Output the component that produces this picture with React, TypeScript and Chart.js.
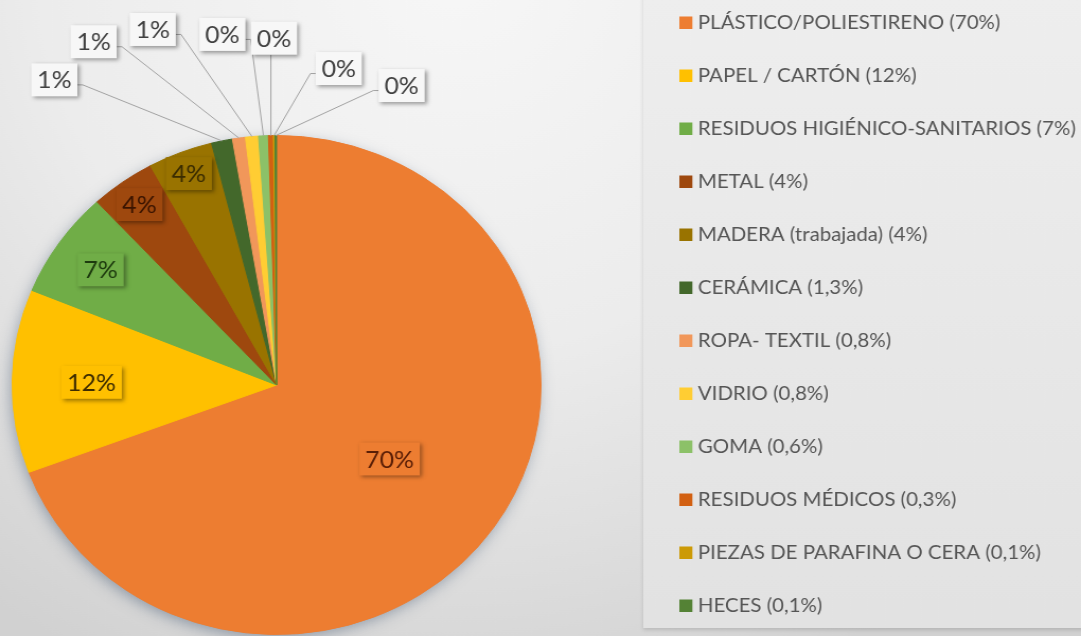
import React, { useEffect, useRef } from 'react';
import { Chart, registerables } from 'chart.js';

Chart.register(...registerables);

// ---------- data ----------
const categories = [
  'PLÁSTICO/POLIESTIRENO (70%)',
  'PAPEL / CARTÓN (12%)',
  'RESIDUOS HIGIÉNICO-SANITARIOS (7%)',
  'METAL (4%)',
  'MADERA (trabajada) (4%)',
  'CERÁMICA (1,3%)',
  'ROPA- TEXTIL (0,8%)',
  'VIDRIO (0,8%)',
  'GOMA (0,6%)',
  'RESIDUOS MÉDICOS (0,3%)',
  'PIEZAS DE PARAFINA O CERA (0,1%)',
  'HECES (0,1%)',
];
const values = [70, 12, 7, 4, 4, 1.3, 0.8, 0.8, 0.6, 0.3, 0.1, 0.1];
const dataLabels = ['70%', '12%', '7%', '4%', '4%', '1%', '1%', '1%', '0%', '0%', '0%', '0%'];

// ---------- styles ----------
const sliceColors = [
  '#ED7D31', '#FFC000', '#70AD47', '#9E480E', '#997300', '#43682B',
  '#F1975A', '#FFCD33', '#8CC168', '#D26012', '#CC9A06', '#548235',
];
const labelTextColors = [
  '#5a1e06', '#3d2c00', '#1d3a0e', '#3a1400', '#3a2c00',
  '#404040', '#404040', '#404040', '#404040', '#404040', '#404040', '#404040',
];
// inside labels: fraction of radius along the slice's mid angle
const insideLabelRadius = [0.52, 0.7, 0.81, 0.89, 0.91];
// callout labels: angle (deg, clockwise from top) and distance (fraction of radius)
const calloutAngleDeg = [-34.5, -26.7, -18.2, -8.3, -0.4, 10.5, 21.5];
const calloutDistance = [1.484, 1.54, 1.5, 1.42, 1.39, 1.29, 1.29];

const SX = 1081 / 1020;
const FONT = 'Lato, "Open Sans", "DejaVu Sans", sans-serif';

const backgroundPlugin = {
  id: 'bgPanel',
  beforeDraw(chart: any) {
    const { ctx, width, height } = chart;
    ctx.save();
    const g = ctx.createRadialGradient(width * 0.42, -40, 10, width * 0.42, -40, 780);
    g.addColorStop(0, '#f7f7f7');
    g.addColorStop(0.5, '#ececec');
    g.addColorStop(0.75, '#dfdfdf');
    g.addColorStop(1, '#d1d1d1');
    ctx.fillStyle = g;
    ctx.fillRect(0, 0, width, height);

    // legend panel
    const lx = 607;
    ctx.shadowColor = 'rgba(0,0,0,0.14)';
    ctx.shadowBlur = 4;
    ctx.shadowOffsetX = 0;
    ctx.shadowOffsetY = 2;
    const lg = ctx.createLinearGradient(0, 0, 0, 628);
    lg.addColorStop(0, '#eeeeee');
    lg.addColorStop(1, '#e2e2e2');
    ctx.fillStyle = lg;
    ctx.fillRect(lx, -10, width - lx + 10, 638);
    ctx.restore();
  },
};

const pieShadowPlugin = {
  id: 'pieShadow',
  beforeDatasetsDraw(chart: any) {
    const meta = chart.getDatasetMeta(0);
    const el = meta.data[0];
    if (!el) return;
    const { x, y, outerRadius } = el.getProps(['x', 'y', 'outerRadius'], true);
    const ctx = chart.ctx;
    ctx.save();
    ctx.shadowColor = 'rgba(70,90,115,0.5)';
    ctx.shadowBlur = 14;
    ctx.shadowOffsetX = -2;
    ctx.shadowOffsetY = 4;
    ctx.fillStyle = '#c0c0c0';
    ctx.beginPath();
    ctx.arc(x, y, outerRadius - 1, 0, Math.PI * 2);
    ctx.fill();
    ctx.restore();
  },
};

const sliceLabelPlugin = {
  id: 'sliceLabels',
  afterDatasetsDraw(chart: any) {
    const ctx = chart.ctx;
    const meta = chart.getDatasetMeta(0);
    ctx.save();
    ctx.font = `23.5px ${FONT}`;
    ctx.textAlign = 'center';
    ctx.textBaseline = 'middle';
    meta.data.forEach((el: any, i: number) => {
      const p = el.getProps(['x', 'y', 'startAngle', 'endAngle', 'outerRadius'], true);
      const mid = (p.startAngle + p.endAngle) / 2;
      const txt = dataLabels[i];
      const tw = ctx.measureText(txt).width;
      const bw = tw + 11;
      const bh = 33;
      const inside = i < insideLabelRadius.length;
      let cx: number;
      let cy: number;
      if (inside) {
        cx = p.x + Math.cos(mid) * p.outerRadius * insideLabelRadius[i];
        cy = p.y + Math.sin(mid) * p.outerRadius * insideLabelRadius[i];
      } else {
        const k = i - insideLabelRadius.length;
        const a = (calloutAngleDeg[k] * Math.PI) / 180 - Math.PI / 2;
        cx = p.x + Math.cos(a) * p.outerRadius * calloutDistance[k];
        cy = p.y + Math.sin(a) * p.outerRadius * calloutDistance[k];
        const ax = p.x + Math.cos(mid) * p.outerRadius;
        const ay = p.y + Math.sin(mid) * p.outerRadius;
        ctx.save();
        ctx.strokeStyle = '#a3a3a3';
        ctx.lineWidth = 1;
        ctx.beginPath();
        if (ax > cx + bw / 2) {
          const sx = cx + bw / 2;
          const sy = cy + 5;
          ctx.moveTo(sx, sy);
          ctx.lineTo(sx + 5, sy);
        } else if (ax < cx - bw / 2) {
          const sx = cx - bw / 2;
          const sy = cy + 5;
          ctx.moveTo(sx, sy);
          ctx.lineTo(sx - 5, sy);
        } else {
          ctx.moveTo(ax, cy + bh / 2);
        }
        ctx.lineTo(ax, ay);
        ctx.stroke();
        ctx.restore();
      }
      ctx.save();
      ctx.shadowColor = 'rgba(0,0,0,0.38)';
      ctx.shadowBlur = 4;
      ctx.shadowOffsetX = 2;
      ctx.shadowOffsetY = 2;
      ctx.fillStyle = inside ? sliceColors[i] : '#f7f7f7';
      ctx.fillRect(cx - bw / 2, cy - bh / 2, bw, bh);
      ctx.restore();
      ctx.fillStyle = labelTextColors[i];
      ctx.fillText(txt, cx, cy + 1);
    });
    ctx.restore();
  },
};

const legendPanelPlugin = {
  id: 'legendPanel',
  afterDraw(chart: any) {
    const ctx = chart.ctx;
    const markerX = 641;
    const textX = 658.5;
    const firstY = 22;
    const step = 53;
    ctx.save();
    ctx.font = `19.3px ${FONT}`;
    ctx.textAlign = 'left';
    ctx.textBaseline = 'middle';
    categories.forEach((label, i) => {
      const cy = firstY + i * step;
      ctx.fillStyle = sliceColors[i];
      ctx.fillRect(markerX, cy - 5.5, 12.3, 12.5);
      ctx.fillStyle = '#555555';
      ctx.fillText(label, textX, cy + 1);
    });
    ctx.restore();
  },
};

export default function App() {
  const canvasRef = useRef<HTMLCanvasElement>(null);

  useEffect(() => {
    if (!canvasRef.current) return;
    const chart = new Chart(canvasRef.current, {
      type: 'pie',
      data: {
        labels: categories,
        datasets: [
          {
            data: values,
            backgroundColor: sliceColors,
            borderColor: sliceColors,
            borderWidth: 1,
          },
        ],
      },
      options: {
        animation: false,
        responsive: true,
        maintainAspectRatio: false,
        layout: { padding: { left: 11, right: 509, top: 135, bottom: 1 } },
        plugins: {
          legend: { display: false },
          tooltip: { enabled: false },
        },
      },
      plugins: [backgroundPlugin, pieShadowPlugin, sliceLabelPlugin, legendPanelPlugin],
    });
    return () => chart.destroy();
  }, []);

  return (
    <div
      style={{
        position: 'fixed',
        left: 0,
        top: 0,
        width: 1020,
        height: 636,
        transform: `scaleX(${SX})`,
        transformOrigin: '0 0',
        overflow: 'hidden',
      }}
    >
      <canvas ref={canvasRef} />
    </div>
  );
}
